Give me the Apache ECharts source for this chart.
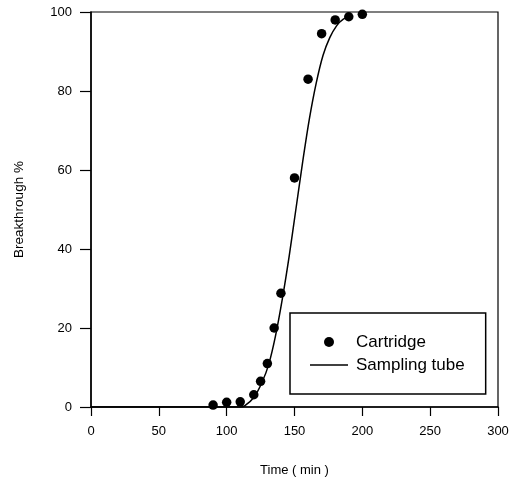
<!DOCTYPE html>
<html>
<head>
<meta charset="utf-8">
<script src="https://cdn.jsdelivr.net/npm/echarts@6/dist/echarts.min.js"></script>
<style>html,body{margin:0;padding:0;background:#fff}#c{width:512px;height:484px}</style>
</head>
<body>
<div id="c"></div>
<script>
var cartridgeX = [90, 100, 110, 120, 125, 130, 135, 140, 150, 160, 170, 180, 190, 200];
var cartridgeY = [0.5, 1.2, 1.3, 3.1, 6.5, 11, 20, 28.8, 58, 83, 94.5, 98, 98.8, 99.4];
var tubeX = [0, 110, 113, 120, 126, 131, 136, 141, 146, 151, 156, 161, 166, 171, 176, 181, 186, 192];
var tubeY = [0, 0, 0.2, 2.4, 6.2, 10.8, 18, 27.3, 38, 50, 62, 73, 82, 89, 93.5, 96.5, 98.2, 99];
var xTicks = [0, 50, 100, 150, 200, 250, 300];
var yTicks = [0, 20, 40, 60, 80, 100];

function pairs(xs, ys) { return xs.map(function (x, i) { return [x, ys[i]]; }); }

var font = 'Liberation Sans, Arial, sans-serif';
var chart = echarts.init(document.getElementById('c'));
chart.setOption({
  animation: false,
  backgroundColor: '#fff',
  grid: { left: 91, right: 14, top: 12, bottom: 77, show: true, borderColor: '#000', borderWidth: 1.2 },
  xAxis: {
    type: 'value', min: xTicks[0], max: xTicks[xTicks.length - 1], interval: 50,
    name: 'Time ( min )', nameLocation: 'middle', nameGap: 57,
    nameTextStyle: { fontFamily: font, fontSize: 13, color: '#000' },
    axisLine: { lineStyle: { color: '#000', width: 1.5 } },
    axisTick: { inside: false, length: 9, lineStyle: { color: '#000', width: 1.2 } },
    axisLabel: { margin: 18, fontFamily: font, fontSize: 13, color: '#000' },
    splitLine: { show: false }
  },
  yAxis: {
    type: 'value', min: yTicks[0], max: yTicks[yTicks.length - 1], interval: 20,
    name: 'Breakthrough %', nameLocation: 'middle', nameGap: 65,
    nameTextStyle: { fontFamily: font, fontSize: 13.5, color: '#000' },
    axisLine: { lineStyle: { color: '#000', width: 1.5 } },
    axisTick: { inside: false, length: 11, lineStyle: { color: '#000', width: 1.2 } },
    axisLabel: { margin: 19, fontFamily: font, fontSize: 13, color: '#000' },
    splitLine: { show: false }
  },
  legend: {
    orient: 'vertical', left: 290, top: 313,
    padding: [20, 21, 20, 20],
    itemWidth: 38, itemHeight: 10, itemGap: 5,
    symbolKeepAspect: true,
    borderColor: '#000', borderWidth: 1.5, borderRadius: 0,
    textStyle: { fontFamily: font, fontSize: 17, color: '#000', lineHeight: 18, padding: [0, 0, 0, 3] },
    data: [
      { name: 'Cartridge', icon: 'circle', itemStyle: { color: '#000', opacity: 1 } },
      { name: 'Sampling tube', icon: 'path://M0,0 L38,0 L38,1.3 L0,1.3 Z', itemStyle: { color: '#000', borderWidth: 0 } }
    ]
  },
  series: [
    {
      name: 'Cartridge', type: 'scatter', symbol: 'circle', symbolSize: 9.5,
      itemStyle: { color: '#000', opacity: 1 }, z: 3,
      data: pairs(cartridgeX, cartridgeY)
    },
    {
      name: 'Sampling tube', type: 'line', smooth: 0.3, showSymbol: false, symbol: 'none',
      lineStyle: { color: '#000', width: 1.5 }, itemStyle: { color: '#000' }, z: 2,
      data: pairs(tubeX, tubeY)
    }
  ]
});
</script>
</body>
</html>
